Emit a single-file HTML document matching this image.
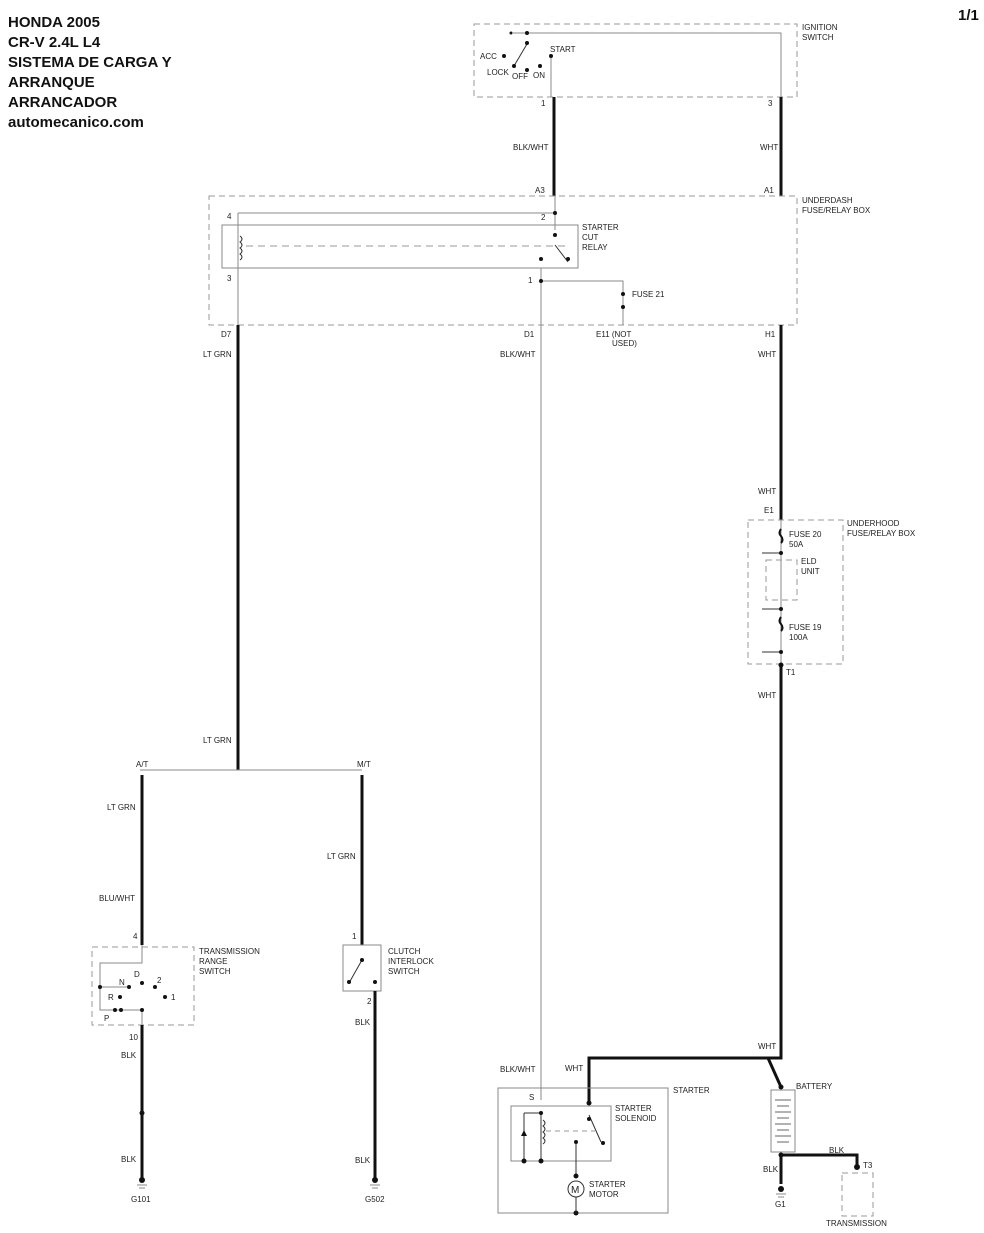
<!DOCTYPE html>
<html><head><meta charset="utf-8"><style>
html,body{margin:0;padding:0;background:#fff}
svg{display:block}
text{font-family:"Liberation Sans",Arial,sans-serif;font-size:8px;fill:#222}
.t{font-size:15px;font-weight:bold;fill:#111}
.d{fill:none;stroke:#999;stroke-width:1;stroke-dasharray:6,4}
.g{fill:none;stroke:#888;stroke-width:1}
.k{fill:none;stroke:#111;stroke-width:3}
.n{fill:none;stroke:#333;stroke-width:1}
</style></head><body>
<svg width="984" height="1233" viewBox="0 0 984 1233" xmlns="http://www.w3.org/2000/svg">
<text class="t" x="8" y="27">HONDA 2005</text>
<text class="t" x="8" y="47">CR-V 2.4L L4</text>
<text class="t" x="8" y="67">SISTEMA DE CARGA Y</text>
<text class="t" x="8" y="87">ARRANQUE</text>
<text class="t" x="8" y="107">ARRANCADOR</text>
<text class="t" x="8" y="127">automecanico.com</text>
<text class="t" x="958" y="20">1/1</text>

<!-- Ignition switch -->
<rect class="d" x="474" y="24" width="323" height="73"/>
<text x="802" y="30">IGNITION</text><text x="802" y="40">SWITCH</text>
<path class="g" d="M527 33 H781 V97 M527 33 H513" />
<path class="n" d="M527 44 L514 66" stroke-width="1.5"/>
<path class="g" d="M551 56 V97"/>
<g fill="#111"><circle cx="527" cy="33" r="2"/><circle cx="527" cy="43" r="2"/><circle cx="504" cy="56" r="2"/><circle cx="514" cy="66" r="2"/><circle cx="527" cy="70" r="2"/><circle cx="540" cy="66" r="2"/><circle cx="551" cy="56" r="2"/><circle cx="511" cy="33" r="1.5"/></g>
<text x="480" y="59">ACC</text><text x="487" y="75">LOCK</text><text x="512" y="79">OFF</text><text x="533" y="78">ON</text><text x="550" y="52">START</text>
<text x="541" y="106">1</text><text x="768" y="106">3</text>
<path class="k" d="M554 97 V196" stroke-width="2"/><path class="k" d="M781 97 V196" stroke-width="2"/>
<text x="513" y="150">BLK/WHT</text><text x="760" y="150">WHT</text>
<text x="535" y="193">A3</text><text x="764" y="193">A1</text>

<!-- Underdash -->
<rect class="d" x="209" y="196" width="588" height="129"/>
<text x="802" y="203">UNDERDASH</text><text x="802" y="213">FUSE/RELAY BOX</text>
<rect class="g" x="222" y="225" width="356" height="43" stroke="#aaa" stroke-width="1.5"/>
<path class="g" d="M238 213 H555 M555 196 V230 M238 213 V325 M541 268 V1100 M541 281 H623 V325"/>
<path d="M240 236 q4 3 0 6 q4 3 0 6 q4 3 0 6 q4 3 0 6" fill="none" stroke="#333"/>
<path d="M246 246 H565" stroke="#999" stroke-dasharray="7,5"/>
<path class="n" d="M555 245 L568 262"/>
<g fill="#111"><circle cx="555" cy="213" r="2"/><circle cx="555" cy="235" r="2"/><circle cx="568" cy="259" r="2"/><circle cx="541" cy="259" r="2"/><circle cx="541" cy="281" r="2"/><circle cx="623" cy="294" r="2"/><circle cx="623" cy="307" r="2"/></g>
<text x="227" y="219">4</text><text x="541" y="220">2</text><text x="227" y="281">3</text><text x="528" y="283">1</text>
<text x="582" y="230">STARTER</text><text x="582" y="240">CUT</text><text x="582" y="250">RELAY</text>
<text x="632" y="297">FUSE 21</text>
<text x="221" y="337">D7</text><text x="524" y="337">D1</text><text x="596" y="337">E11  (NOT</text><text x="612" y="346">USED)</text><text x="765" y="337">H1</text>
<text x="203" y="357">LT GRN</text><text x="500" y="357">BLK/WHT</text><text x="758" y="357">WHT</text>

<!-- D7 line -->
<path class="k" d="M238 325 V770" stroke-width="2.5"/>
<text x="203" y="743">LT GRN</text>
<path class="g" d="M140 770 H362"/>
<text x="136" y="767">A/T</text><text x="357" y="767">M/T</text>
<path class="k" d="M142 775 V945" stroke-width="2.5"/>
<path class="k" d="M362 775 V945" stroke-width="2.5"/>
<text x="107" y="810">LT GRN</text><text x="99" y="901">BLU/WHT</text><text x="327" y="859">LT GRN</text>
<text x="133" y="939">4</text><text x="352" y="939">1</text>

<!-- TRS -->
<rect class="d" x="92" y="947" width="102" height="78"/>
<text x="199" y="954">TRANSMISSION</text><text x="199" y="964">RANGE</text><text x="199" y="974">SWITCH</text>
<path class="g" d="M142 945 V963 H100 V1010 H142 M100 987 H129 M142 1010 V1025" stroke="#555"/>
<g fill="#111"><circle cx="100" cy="987" r="2"/><circle cx="129" cy="987" r="2"/><circle cx="142" cy="983" r="2"/><circle cx="155" cy="987" r="2"/><circle cx="165" cy="997" r="2"/><circle cx="120" cy="997" r="2"/><circle cx="115" cy="1010" r="2"/><circle cx="121" cy="1010" r="2"/><circle cx="142" cy="1010" r="2"/></g>
<text x="119" y="985">N</text><text x="134" y="977">D</text><text x="157" y="983">2</text><text x="108" y="1000">R</text><text x="171" y="1000">1</text><text x="104" y="1021">P</text>
<text x="129" y="1040">10</text>
<path class="k" d="M142 1025 V1178" stroke-width="2.5"/>
<text x="121" y="1058">BLK</text><text x="121" y="1162">BLK</text>
<circle cx="142" cy="1113" r="2.5" fill="#111"/>
<circle cx="142" cy="1180" r="3" fill="#111"/><path d="M137 1185 H147 M139 1188 H145" stroke="#888"/>
<text x="131" y="1202">G101</text>

<!-- CIS -->
<rect class="g" x="343" y="945" width="38" height="46" stroke="#777"/>
<text x="388" y="954">CLUTCH</text><text x="388" y="964">INTERLOCK</text><text x="388" y="974">SWITCH</text>
<path class="n" d="M362 960 L349 983"/>
<g fill="#111"><circle cx="362" cy="960" r="2"/><circle cx="349" cy="982" r="2"/><circle cx="375" cy="982" r="2"/></g>
<text x="367" y="1004">2</text>
<path class="k" d="M375 991 V1178" stroke-width="2.5"/>
<text x="355" y="1025">BLK</text><text x="355" y="1163">BLK</text>
<circle cx="375" cy="1180" r="3" fill="#111"/><path d="M370 1185 H380 M372 1188 H378" stroke="#888"/>
<text x="365" y="1202">G502</text>

<!-- WHT right -->
<path class="k" d="M781 325 V520 M781 664 V1058 L768 1058 H589 V1103 M768 1058 L781 1087" stroke-width="2.5"/>
<text x="758" y="494">WHT</text><text x="764" y="513">E1</text>
<rect class="d" x="748" y="520" width="95" height="144"/>
<text x="847" y="526">UNDERHOOD</text><text x="847" y="536">FUSE/RELAY BOX</text>
<path class="g" d="M781 520 V664" stroke="#555"/>
<path d="M781 529 q-3 4 0 7 q3 4 0 7 M781 617 q-3 4 0 7 q3 4 0 7" stroke="#111" fill="none" stroke-width="2"/>
<rect class="d" x="766" y="560" width="31" height="40"/>
<path class="n" d="M781 553 H762 M781 609 H762 M781 652 H762"/>
<g fill="#111"><circle cx="781" cy="553" r="2"/><circle cx="781" cy="609" r="2"/><circle cx="781" cy="652" r="2"/><circle cx="781" cy="665" r="2.5"/></g>
<text x="789" y="537">FUSE 20</text><text x="789" y="547">50A</text>
<text x="801" y="564">ELD</text><text x="801" y="574">UNIT</text>
<text x="789" y="630">FUSE 19</text><text x="789" y="640">100A</text>
<text x="786" y="675">T1</text>
<text x="758" y="698">WHT</text><text x="758" y="1049">WHT</text>
<text x="500" y="1072">BLK/WHT</text><text x="565" y="1071">WHT</text>

<!-- Starter -->
<rect class="g" x="498" y="1088" width="170" height="125"/>
<text x="673" y="1093">STARTER</text><text x="529" y="1100">S</text>
<rect class="g" x="511" y="1106" width="100" height="55" stroke="#555"/>
<text x="615" y="1111">STARTER</text><text x="615" y="1121">SOLENOID</text>
<path class="n" d="M541 1112 V1162 M524 1113 H541 M524 1113 V1162 M576 1142 V1174 M589 1115 L601 1142"/>
<path d="M543 1120 q4 3 0 6 q4 3 0 6 q4 3 0 6 q4 3 0 6" fill="none" stroke="#333"/>
<path d="M521 1136 H527 L524 1130 Z" fill="#111"/>
<path d="M546 1131 H595" stroke="#999" stroke-dasharray="5,4"/>
<g fill="#111"><circle cx="589" cy="1103" r="2.5"/><circle cx="541" cy="1113" r="2"/><circle cx="589" cy="1119" r="2"/><circle cx="603" cy="1143" r="2"/><circle cx="576" cy="1142" r="2"/><circle cx="524" cy="1161" r="2.5"/><circle cx="541" cy="1161" r="2.5"/><circle cx="576" cy="1176" r="2.5"/><circle cx="576" cy="1213" r="2.5"/></g>
<circle cx="576" cy="1189" r="8" fill="#fff" stroke="#333"/><text x="571" y="1193" style="font-size:10px">M</text>
<path class="n" d="M576 1197 V1213"/>
<text x="589" y="1187">STARTER</text><text x="589" y="1197">MOTOR</text>

<!-- Battery -->
<rect class="g" x="771" y="1090" width="24" height="62" stroke="#999"/>
<g stroke="#666"><path d="M775 1100H791M777 1106H789M775 1112H791M777 1118H789M775 1124H791M777 1130H789M775 1136H791M777 1142H789"/></g>
<circle cx="781" cy="1087" r="2.5" fill="#111"/>
<text x="796" y="1089">BATTERY</text>
<path class="k" d="M781 1155 V1184 M781 1155 H857 V1167" stroke-width="2.5"/>
<circle cx="781" cy="1155" r="2.5" fill="#111"/><circle cx="857" cy="1167" r="3" fill="#111"/>
<text x="829" y="1153">BLK</text><text x="763" y="1172">BLK</text><text x="863" y="1168">T3</text>
<circle cx="781" cy="1189" r="3" fill="#111"/><path d="M776 1194 H786 M778 1197 H784" stroke="#888"/>
<text x="775" y="1207">G1</text>
<rect class="d" x="842" y="1173" width="31" height="43"/>
<text x="826" y="1226">TRANSMISSION</text>
</svg>
</body></html>
